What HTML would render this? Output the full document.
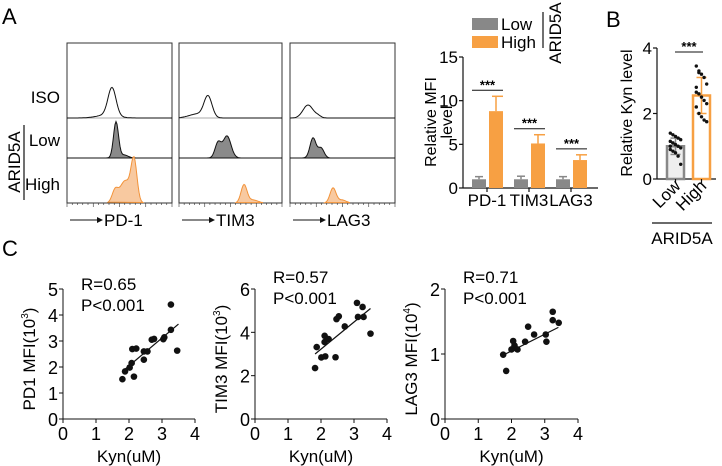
<!DOCTYPE html>
<html><head><meta charset="utf-8"><style>
html,body{margin:0;padding:0;background:#fff}
svg{display:block;font-family:"Liberation Sans",Arial,sans-serif}
</style></head><body>
<svg id="fig" width="722" height="466" viewBox="0 0 722 466">
<text x="2" y="24" font-size="22">A</text>
<text x="606" y="27" font-size="22">B</text>
<text x="2" y="256" font-size="22">C</text>
<g id="hist"></g>
<g id="barA"></g>
<g id="barB"></g>
<g id="scat"></g>
</svg>
<script>
// ---- Panel A bar chart data ----
const mfiCategories = ["PD-1","TIM3","LAG3"];
const mfiLow = [1.0,1.0,1.0];
const mfiLowErr = [0.3,0.35,0.3];
const mfiHigh = [8.8,5.1,3.2];
const mfiHighErr = [1.7,1.0,0.6];
const mfiTicks = [0,5,10,15];
// ---- Panel B data ----
const kynGroups = ["Low","High"];
const kynMeans = [1.0,2.55];
const kynErr = [0.25,0.55];
const kynLowPts = [1.4,1.35,1.3,1.25,1.2,1.15,1.1,1.05,1.0,0.95,0.9,0.85,0.8,0.7,0.45,1.0,1.1];
const kynHighPts = [3.45,3.3,3.2,3.1,2.9,2.8,2.6,2.5,2.4,2.3,2.2,2.0,1.9,1.8,1.75,2.65,3.25];
const kynTicks = [0,2,4];
// ---- Panel C data ----
const pd1X = [1.80,1.88,2.02,2.08,2.15,2.10,2.22,2.45,2.45,2.56,2.69,2.76,3.04,3.07,3.27,3.27,3.46];
const pd1Y = [1.53,1.83,1.98,2.15,1.63,2.69,2.71,2.28,2.60,2.60,3.05,3.08,3.07,3.14,3.43,4.40,2.63];
const tim3X = [1.82,1.87,2.01,2.13,2.11,2.11,2.23,2.44,2.47,2.54,2.72,3.09,3.12,3.26,3.29,3.50];
const tim3Y = [2.35,3.32,2.84,2.89,3.55,3.84,3.69,2.85,4.61,4.74,4.27,5.36,4.71,5.17,4.71,3.94];
const lag3X = [1.75,1.84,2.00,2.05,2.09,2.18,2.41,2.50,2.68,3.03,3.05,3.24,3.24,3.42];
const lag3Y = [0.99,0.74,1.07,1.20,1.13,1.07,1.19,1.42,1.30,1.30,1.19,1.65,1.52,1.48];
const fitLines = [[1.8,1.83,3.5,3.65],[1.82,3.0,3.5,5.1],[1.78,0.99,3.41,1.41]];
const xTicksC = [0,1,2,3,4];
// ---- Histogram components [center, width, height] ----
const histMarkers = ["PD-1","TIM3","LAG3"];
const histIso = [[[45,4,28],[40,10,3]],[[29,4,21],[18,8,4],[-30,3,2]],[[18,5,13],[28,3,2]]];
const histLow = [[[49,2.5,36],[57,4,3]],[[39,3,15],[48,4,22]],[[23,3,20],[31,3,10]]];
const histHigh = [[[48,3,12],[58,5,22],[67,3,42]],[[65,3,18],[74,5,3]],[[43,3,15],[52,4,3]]];

const NS="http://www.w3.org/2000/svg";
function mk(parent,tag,attrs,text){const e=document.createElementNS(NS,tag);for(const k in attrs)e.setAttribute(k,attrs[k]);if(text!==undefined)e.textContent=text;parent.appendChild(e);return e;}

// ===== Histograms =====
const H=document.getElementById('hist');
const boxX=[67,179,290], boxW=[105,103,105], histTop=43, rowB=[118,158,203];
function curve(comps,x0,w,base){
  let d="";for(let i=0;i<=w;i++){let v=0;for(const c of comps)v+=c[2]*Math.exp(-0.5*Math.pow((i-c[0])/c[1],2));d+=(i?"L":"M")+(x0+i)+","+(base-v).toFixed(1);}
  return d;
}
for(let m=0;m<3;m++){
  const x0=boxX[m],w=boxW[m];
  let r=mk(H,'rect',{x:x0,y:histTop,width:w,height:rowB[2]-histTop,fill:'none',stroke:'#333','stroke-width':1});
  
  
  mk(H,'line',{x1:x0,x2:x0+w,y1:rowB[0],y2:rowB[0],stroke:'#555','stroke-width':0.6});
  mk(H,'line',{x1:x0,x2:x0+w,y1:rowB[1],y2:rowB[1],stroke:'#555','stroke-width':0.6});
  let p=mk(H,'path',{d:curve(histIso[m],x0,w,rowB[0]),fill:'none',stroke:'#111','stroke-width':1});
  
  
  p=mk(H,'path',{d:curve(histLow[m],x0,w,rowB[1])+"Z",fill:'#8a8a8a',stroke:'#111','stroke-width':1});
  
  
  let hd="";for(let i=0;i<=w;i++){let v=0;for(const c of histHigh[m])v+=c[2]*Math.exp(-0.5*Math.pow((i-c[0])/c[1],2));if(v>0.4)hd+=(hd?"L":"M")+(x0+i)+","+(rowB[2]-v).toFixed(1);}
  p=mk(H,'path',{d:hd+"Z",fill:'#f8c9a0',stroke:'#f2933a','stroke-width':1});
  
  
  for(let t=0;t<=20;t++){const tx=x0+t*w/20;mk(H,'line',{x1:tx,x2:tx,y1:rowB[2],y2:rowB[2]+(t%5?2:4),stroke:'#333','stroke-width':0.6});}
  mk(H,'line',{x1:x0+3,x2:x0+30,y1:220,y2:220,stroke:'#111','stroke-width':1});
  mk(H,'path',{d:`M${x0+30},217 L${x0+36},220 L${x0+30},223Z`,fill:'#111'});
  let t=mk(H,'text',{x:x0+37,y:226,'font-size':17},histMarkers[m]);
  
  
}
mk(H,'text',{x:60,y:103,'font-size':17,'text-anchor':'end'},'ISO');
mk(H,'text',{x:60,y:146,'font-size':17,'text-anchor':'end'},'Low');
mk(H,'text',{x:60,y:190,'font-size':17,'text-anchor':'end'},'High');
mk(H,'line',{x1:24,x2:24,y1:125,y2:200,stroke:'#111','stroke-width':1.2});
mk(H,'text',{x:0,y:0,'font-size':17,'text-anchor':'middle',transform:'translate(20,162) rotate(-90)'},'ARID5A');

// ===== Panel A bars =====
const A=document.getElementById('barA');
const ax0=463, ay0=188, ay1=57, yMaxA=15;
const yA=v=>ay0-(v/yMaxA)*(ay0-ay1);
const groupX=[472,514,556], bw=14;
mk(A,'line',{x1:ax0,x2:ax0,y1:ay1,y2:ay0,stroke:'#111','stroke-width':1.2});
mk(A,'line',{x1:ax0,x2:598,y1:ay0,y2:ay0,stroke:'#111','stroke-width':1.2});
mfiTicks.forEach(v=>{mk(A,'line',{x1:ax0-4,x2:ax0,y1:yA(v),y2:yA(v),stroke:'#111','stroke-width':1.2});
  const t=mk(A,'text',{x:ax0-5,y:yA(v)+6,'font-size':17,'text-anchor':'end'},v);
  
  });
mfiCategories.forEach((c,i)=>{
  const gx=groupX[i];
  const lx=gx, hx=gx+17;
  let e=mk(A,'line',{x1:lx+bw/2,x2:lx+bw/2,y1:yA(mfiLow[i]),y2:yA(mfiLow[i]+mfiLowErr[i]),stroke:'#888','stroke-width':1.5});
  mk(A,'line',{x1:lx+3,x2:lx+bw-3,y1:yA(mfiLow[i]+mfiLowErr[i]),y2:yA(mfiLow[i]+mfiLowErr[i]),stroke:'#888','stroke-width':1.5});
  e=mk(A,'rect',{x:lx,y:yA(mfiLow[i]),width:bw,height:ay0-yA(mfiLow[i]),fill:'#888'});
  
  
  mk(A,'line',{x1:hx+bw/2,x2:hx+bw/2,y1:yA(mfiHigh[i]),y2:yA(mfiHigh[i]+mfiHighErr[i]),stroke:'#f7a043','stroke-width':1.5});
  mk(A,'line',{x1:hx+3,x2:hx+bw,y1:yA(mfiHigh[i]+mfiHighErr[i]),y2:yA(mfiHigh[i]+mfiHighErr[i]),stroke:'#f7a043','stroke-width':1.5});
  e=mk(A,'rect',{x:hx,y:yA(mfiHigh[i]),width:bw,height:ay0-yA(mfiHigh[i]),fill:'#f7a043'});
  
  
  const sy=yA(mfiHigh[i]+mfiHighErr[i])-6;
  mk(A,'line',{x1:lx,x2:hx+bw,y1:sy,y2:sy,stroke:'#111','stroke-width':1});
  mk(A,'text',{x:(lx+hx+bw)/2,y:sy-1,'font-size':13,'text-anchor':'middle','font-weight':'bold'},'***');
  mk(A,'line',{x1:gx+15,x2:gx+15,y1:ay0,y2:ay0+4,stroke:'#111','stroke-width':1.2});
  const t=mk(A,'text',{x:gx+15,y:206,'font-size':17,'text-anchor':'middle'},c);
  
  
});
mk(A,'text',{x:0,y:0,'font-size':16,'text-anchor':'middle',transform:'translate(436,122) rotate(-90)'},'Relative MFI');
mk(A,'text',{x:0,y:0,'font-size':16,'text-anchor':'middle',transform:'translate(452,122) rotate(-90)'},'level');
mk(A,'rect',{x:472,y:18,width:26,height:12,fill:'#888',});
mk(A,'text',{x:501,y:30,'font-size':17},'Low');
mk(A,'rect',{x:472,y:36,width:26,height:12,fill:'#f7a043',});
mk(A,'text',{x:501,y:48,'font-size':17},'High');
mk(A,'line',{x1:543,x2:543,y1:12,y2:48,stroke:'#111','stroke-width':1.2});
mk(A,'text',{x:0,y:0,'font-size':17,'text-anchor':'middle',transform:'translate(561,33) rotate(-90)'},'ARID5A');

// ===== Panel B =====
const B=document.getElementById('barB');
const bx0=657, by0=179, by1=48, yMaxB=4;
const yB=v=>by0-(v/yMaxB)*(by0-by1);
const bX=[667,693], bW=17;
mk(B,'line',{x1:bx0,x2:bx0,y1:by1,y2:by0,stroke:'#111','stroke-width':1.2});
mk(B,'line',{x1:bx0,x2:716,y1:by0,y2:by0,stroke:'#111','stroke-width':1.2});
kynTicks.forEach(v=>{mk(B,'line',{x1:bx0-4,x2:bx0,y1:yB(v),y2:yB(v),stroke:'#111','stroke-width':1.2});
  const t=mk(B,'text',{x:bx0-5,y:yB(v)+6,'font-size':17,'text-anchor':'end'},v);
  
  });
const bCols=['#888','#f7a043'], bPts=[kynLowPts,kynHighPts];
kynGroups.forEach((g,i)=>{
  const x=bX[i], c=bCols[i], cx=x+bW/2;
  let r=mk(B,'rect',{x:x,y:yB(kynMeans[i]),width:bW,height:by0-yB(kynMeans[i]),fill:i?'#fff':'#eee',stroke:c,'stroke-width':2.5});
  
  
  const e1=yB(kynMeans[i]+kynErr[i]), e2=yB(kynMeans[i]-kynErr[i]);
  mk(B,'line',{x1:cx,x2:cx,y1:e1,y2:e2,stroke:c,'stroke-width':1.5});
  mk(B,'line',{x1:cx-5,x2:cx+5,y1:e1,y2:e1,stroke:c,'stroke-width':1.5});
  mk(B,'line',{x1:cx-5,x2:cx+5,y1:e2,y2:e2,stroke:c,'stroke-width':1.5});
  bPts[i].forEach((v,j)=>{const d=mk(B,'circle',{cx:cx+((j%5)-2)*2.6,cy:yB(v),r:1.7,fill:'#111'});
    
    });
  mk(B,'line',{x1:cx,x2:cx,y1:by0,y2:by0+4,stroke:'#111','stroke-width':1.2});
  const t=mk(B,'text',{x:0,y:0,'font-size':17,'text-anchor':'end',transform:`translate(${cx+6},${by0+8}) rotate(-45)`},g);
  
  
});
mk(B,'line',{x1:675,x2:703,y1:52,y2:52,stroke:'#111','stroke-width':1});
mk(B,'text',{x:689,y:51,'font-size':13,'text-anchor':'middle','font-weight':'bold'},'***');
mk(B,'text',{x:0,y:0,'font-size':16,'text-anchor':'middle',transform:'translate(632,113) rotate(-90)'},'Relative Kyn level');
mk(B,'line',{x1:652,x2:712,y1:223,y2:223,stroke:'#111','stroke-width':1.2});
mk(B,'text',{x:682,y:244,'font-size':17,'text-anchor':'middle'},'ARID5A');

// ===== Panel C =====
const S=document.getElementById('scat');
const panels=[
 {x0:63,x4:195,ymax:5,ticks:[0,1,2,3,4,5],X:pd1X,Y:pd1Y,lab:'PD1 MFI(10',sup:'3',R:'R=0.65',name:'pd1'},
 {x0:255,x4:387,ymax:6,ticks:[0,2,4,6],X:tim3X,Y:tim3Y,lab:'TIM3 MFI(10',sup:'3',R:'R=0.57',name:'tim3'},
 {x0:445,x4:578,ymax:2,ticks:[0,1,2],X:lag3X,Y:lag3Y,lab:'LAG3 MFI(10',sup:'4',R:'R=0.71',name:'lag3'}];
const cy0=419, cy1=289;
panels.forEach((p,k)=>{
  const sx=v=>p.x0+v/4*(p.x4-p.x0), sy=v=>cy0-v/p.ymax*(cy0-cy1);
  const g=mk(S,'g',{});
  
  
  mk(g,'line',{x1:p.x0,x2:p.x0,y1:cy1,y2:cy0,stroke:'#111','stroke-width':1});
  mk(g,'line',{x1:p.x0,x2:p.x4,y1:cy0,y2:cy0,stroke:'#111','stroke-width':1});
  p.ticks.forEach(v=>{mk(g,'line',{x1:p.x0-4,x2:p.x0,y1:sy(v),y2:sy(v),stroke:'#111'});
    mk(g,'text',{x:p.x0-5,y:sy(v)+7,'font-size':18,'text-anchor':'end'},v);});
  xTicksC.forEach(v=>{mk(g,'line',{x1:sx(v),x2:sx(v),y1:cy0,y2:cy0+4,stroke:'#111'});
    mk(g,'text',{x:sx(v),y:cy0+21,'font-size':18,'text-anchor':'middle'},v);});
  mk(g,'text',{x:(p.x0+p.x4)/2,y:462,'font-size':17,'text-anchor':'middle'},'Kyn(uM)');
  const t=mk(g,'text',{x:0,y:0,'font-size':17,'text-anchor':'middle',transform:`translate(${p.x0-28},${(cy0+cy1)/2+5}) rotate(-90)`});
  t.appendChild(document.createTextNode(p.lab));
  mk(t,'tspan',{'font-size':10,dy:-7},p.sup);
  mk(t,'tspan',{dy:7},')');
  mk(g,'text',{x:p.x0+18,y:k==0?290:283,'font-size':17},p.R);
  mk(g,'text',{x:p.x0+18,y:k==0?311:304,'font-size':17},'P<0.001');
  const f=fitLines[k];
  mk(g,'line',{x1:sx(f[0]),y1:sy(f[1]),x2:sx(f[2]),y2:sy(f[3]),stroke:'#111','stroke-width':1.2});
  p.X.forEach((v,i)=>{const c=mk(g,'circle',{cx:sx(v),cy:sy(p.Y[i]),r:3.3,fill:'#111'});
    
    });
});
</script>
</body></html>
